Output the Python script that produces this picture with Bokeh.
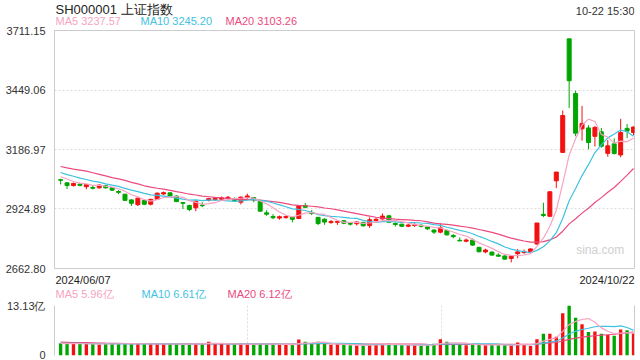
import numpy as np
from bokeh.plotting import figure
from bokeh.layouts import column
from bokeh.models import (ColumnDataSource, Range1d, FixedTicker, LinearAxis,
                          NumeralTickFormatter, CustomJSTickFormatter)
from bokeh.core.properties import value
from bokeh.embed import file_html
from bokeh.resources import INLINE

# ---------------- data ----------------
dates = [
    "2024-06-07", "2024-06-11", "2024-06-12", "2024-06-13", "2024-06-14",
    "2024-06-17", "2024-06-18", "2024-06-19", "2024-06-20", "2024-06-21",
    "2024-06-24", "2024-06-25", "2024-06-26", "2024-06-27", "2024-06-28",
    "2024-07-01", "2024-07-02", "2024-07-03", "2024-07-04", "2024-07-05",
    "2024-07-08", "2024-07-09", "2024-07-10", "2024-07-11", "2024-07-12",
    "2024-07-15", "2024-07-16", "2024-07-17", "2024-07-18", "2024-07-19",
    "2024-07-22", "2024-07-23", "2024-07-24", "2024-07-25", "2024-07-26",
    "2024-07-29", "2024-07-30", "2024-07-31", "2024-08-01", "2024-08-02",
    "2024-08-05", "2024-08-06", "2024-08-07", "2024-08-08", "2024-08-09",
    "2024-08-12", "2024-08-13", "2024-08-14", "2024-08-15", "2024-08-16",
    "2024-08-19", "2024-08-20", "2024-08-21", "2024-08-22", "2024-08-23",
    "2024-08-26", "2024-08-27", "2024-08-28", "2024-08-29", "2024-08-30",
    "2024-09-02", "2024-09-03", "2024-09-04", "2024-09-05", "2024-09-06",
    "2024-09-09", "2024-09-10", "2024-09-11", "2024-09-12", "2024-09-13",
    "2024-09-18", "2024-09-19", "2024-09-20", "2024-09-23", "2024-09-24",
    "2024-09-25", "2024-09-26", "2024-09-27", "2024-09-30", "2024-10-08",
    "2024-10-09", "2024-10-10", "2024-10-11", "2024-10-14", "2024-10-15",
    "2024-10-16", "2024-10-17", "2024-10-18", "2024-10-21", "2024-10-22",
]

opens = [3054, 3040, 3028, 3034, 3023, 3020, 3018, 3027, 3019, 3002,
         2990, 2965, 2944, 2962, 2946, 2968, 2991, 2996, 2982, 2953,
         2940, 2930, 2942, 2963, 2966, 2968, 2972, 2970, 2955, 2976,
         2975, 2958, 2908, 2892, 2885, 2887, 2888, 2883, 2940, 2910,
         2888, 2880, 2865, 2866, 2873, 2861, 2860, 2866, 2852, 2874,
         2881, 2895, 2861, 2858, 2849, 2852, 2853, 2846, 2832, 2823,
         2830, 2808, 2787, 2783, 2788, 2756, 2736, 2735, 2722, 2718,
         2707, 2728, 2733, 2734, 2770.75, 2901.43, 2893, 3049.06, 3174.26, 3674.40,
         3433.31, 3278, 3282, 3245, 3265, 3170, 3212, 3163, 3280, 3262]

highs = [3058, 3043, 3041, 3038, 3035, 3026, 3033, 3031, 3022, 3008,
         2992, 2968, 2975, 2966, 2970, 2997, 3002, 2999, 2985, 2956,
         2944, 2962, 2955, 2974, 2978, 2980, 2982, 2976, 2980, 2993,
         2978, 2962, 2920, 2902, 2896, 2897, 2890, 2940, 2952, 2920,
         2890, 2884, 2876, 2874, 2876, 2866, 2870, 2868, 2888, 2885,
         2905, 2897, 2866, 2860, 2859, 2862, 2859, 2850, 2836, 2862,
         2834, 2815, 2800, 2795, 2795, 2758, 2750, 2738, 2730, 2721,
         2722, 2749, 2746, 2752, 2863.13, 2952.45, 3000.95, 3087.53, 3358.59, 3674.40,
         3446, 3379, 3294, 3290, 3282, 3229, 3236, 3322, 3299, 3289]

lows = [3033, 3013, 3024, 3025, 3012, 3011, 3015, 3015, 3004, 2990,
        2960, 2938, 2938, 2942, 2941, 2965, 2987, 2980, 2955, 2925,
        2915, 2915, 2933, 2958, 2960, 2960, 2968, 2958, 2945, 2965,
        2955, 2914, 2895, 2880, 2878, 2882, 2866, 2880, 2928, 2898,
        2854, 2855, 2860, 2855, 2858, 2852, 2852, 2848, 2842, 2870,
        2878, 2863, 2848, 2846, 2845, 2846, 2843, 2833, 2815, 2818,
        2808, 2796, 2783, 2778, 2762, 2734, 2730, 2720, 2714, 2702,
        2689.70, 2708, 2727, 2731, 2767.5, 2889.05, 2889.27, 3017, 3174.26, 3370,
        3245, 3226, 3188, 3200, 3195, 3155, 3165, 3152.82, 3237, 3250]

closes = [3051.28, 3028.05, 3037.47, 3028.92, 3032.63, 3015.89, 3030.25, 3018.05, 3007.88, 2998.14,
          2963.10, 2950.01, 2972.53, 2945.85, 2967.40, 2994.73, 2997.01, 2982.38, 2957.57, 2949.93,
          2922.45, 2959.37, 2939.36, 2970.39, 2971.30, 2974.01, 2976.30, 2962.19, 2977.13, 2982.31,
          2964.22, 2915.37, 2901.95, 2886.43, 2890.90, 2891.85, 2879.30, 2938.75, 2932.39, 2905.34,
          2860.70, 2867.28, 2869.90, 2870.22, 2862.19, 2858.20, 2867.95, 2850.65, 2877.36, 2879.43,
          2893.67, 2866.66, 2856.58, 2848.77, 2854.37, 2855.52, 2848.73, 2837.43, 2823.11, 2842.21,
          2811.04, 2802.98, 2784.28, 2788.31, 2765.81, 2736.49, 2744.19, 2721.80, 2717.12, 2704.09,
          2717.28, 2736.02, 2736.81, 2748.92, 2863.13, 2896.31, 3000.95, 3087.53, 3336.50, 3489.78,
          3258.86, 3301.93, 3217.74, 3284.32, 3201.29, 3202.95, 3169.38, 3261.56, 3268.11, 3285.87]

# volume, unit 亿
volumes = [3.2, 3.1, 3.0, 3.1, 3.0, 3.1, 2.9, 3.1, 3.0, 3.3,
           3.1, 3.0, 3.0, 3.0, 3.1, 3.0, 3.0, 3.0, 3.0, 2.9,
           3.1, 3.2, 3.0, 3.6, 3.0, 3.0, 2.9, 2.9, 3.1, 3.0,
           3.0, 3.1, 2.9, 3.0, 2.8, 2.8, 2.8, 4.2, 3.6, 3.1,
           3.6, 3.0, 2.8, 2.9, 2.8, 2.7, 2.6, 2.6, 3.0, 2.9,
           3.0, 3.1, 2.8, 2.7, 2.7, 2.7, 2.6, 2.8, 3.1, 4.3,
           3.6, 2.9, 2.8, 2.7, 2.8, 2.9, 2.7, 2.8, 2.7, 2.8,
           2.7, 3.4, 2.9, 2.5, 4.3, 5.7, 5.7, 4.9, 11.1, 13.13,
           9.9, 8.2, 6.2, 6.3, 5.7, 5.4, 5.2, 6.8, 6.6, 5.8]

# 19 sessions before the window (for moving averages)
prior_closes = [3148.02, 3145.77, 3119.90, 3122.40, 3154.03, 3171.15, 3157.97, 3158.54, 3116.39, 3088.87,
                3124.04, 3109.57, 3111.02, 3091.68, 3086.81, 3078.49, 3091.20, 3065.40, 3048.79]
prior_volumes = [3.9, 3.8, 3.6, 3.5, 3.9, 4.1, 3.8, 3.6, 3.8, 3.6,
                 3.4, 3.3, 3.3, 3.2, 3.4, 3.2, 3.1, 3.2, 3.1]

price_ticks = [2662.80, 2924.89, 3186.97, 3449.06, 3711.15]
vol_ticks = [0, 13.13]

title_text = "SH000001 上证指数"
time_text = "10-22 15:30"
ma_text = ["MA5 3237.57", "MA10 3245.20", "MA20 3103.26"]
vol_ma_text = ["MA5 5.96亿", "MA10 6.61亿", "MA20 6.12亿"]

# ---------------- styling ----------------
UP = "#f21010"
DOWN = "#00a600"
MA_COLORS = ["#f7a3c2", "#3fc2df", "#ec4a7e"]
FONT = "Liberation Sans"
GRID = "#dcdcdc"
BORDER = "#cccccc"
W = 640
LEFT, RIGHT = 54, 6


def moving(values, prior, n):
    full = np.array(list(prior) + list(values), dtype=float)
    k = len(prior)
    return [float(full[k + i - n + 1:k + i + 1].mean()) for i in range(len(values))]


def text_strip(height):
    """A strip of text; x measured in page px (frame aligned with the panels), y downwards."""
    f = figure(width=W, height=height, x_range=Range1d(LEFT, W - RIGHT), y_range=Range1d(height, 0),
               output_backend="svg", toolbar_location=None,
               x_axis_location=None, y_axis_location=None,
               min_border_left=LEFT, min_border_right=RIGHT, min_border_top=0, min_border_bottom=0)
    f.outline_line_color = None
    f.xgrid.visible = False
    f.ygrid.visible = False
    return f


def put(f, xs_, ys_, texts, colors_, size, align="left"):
    f.text(x=xs_, y=ys_, text=texts, text_color=colors_, text_font=value(FONT),
           text_font_size=size, text_align=align, text_baseline="middle")


def style_axis(a):
    a.axis_line_color = BORDER
    a.major_tick_line_color = None
    a.minor_tick_line_color = None
    a.major_label_standoff = 3
    a.major_label_text_font = FONT
    a.major_label_text_font_size = "11px"
    a.major_label_text_color = "#333333"


n = len(closes)
xs = list(range(n))
colors = [UP if c >= o else DOWN for o, c in zip(opens, closes)]
src = ColumnDataSource(dict(
    x=xs, open=opens, close=closes, high=highs, low=lows,
    top=[max(o, c) for o, c in zip(opens, closes)],
    bottom=[min(o, c) for o, c in zip(opens, closes)],
    vol=volumes, color=colors,
))
x_range = Range1d(-0.95, n - 1 + 0.15)

# ---------------- header ----------------
HH = 26
head = text_strip(HH)
put(head, [55], [8.5], [title_text], ["#222222"], "13px")
put(head, [W - RIGHT], [10], [time_text], ["#333333"], "11px", "right")
put(head, [55, 140, 225], [20.5] * 3, ma_text, MA_COLORS, "11px")

# ---------------- main (price) panel ----------------
p = figure(width=W, height=247, x_range=x_range,
           y_range=Range1d(price_ticks[0], price_ticks[-1]),
           output_backend="svg", toolbar_location=None, x_axis_location=None,
           min_border_left=LEFT, min_border_right=RIGHT, min_border_top=4, min_border_bottom=5)
p.outline_line_color = BORDER
p.xgrid.visible = False
p.ygrid.ticker = FixedTicker(ticks=price_ticks)
p.ygrid.grid_line_color = GRID
p.ygrid.grid_line_dash = "2 2"
ax = p.yaxis[0]
ax.ticker = FixedTicker(ticks=price_ticks)
ax.formatter = NumeralTickFormatter(format="0.00")
style_axis(ax)

# watermark
p.text(x=[x_range.end - 1.6], y=[price_ticks[0] + 80], text=["sina.com"], text_color="#cfcfcf",
       text_font=value(FONT), text_font_size="12px", text_align="right", text_baseline="middle")

p.segment(x0="x", y0="low", x1="x", y1="high", line_color="color", line_width=1, source=src)
p.vbar(x="x", width=0.62, top="top", bottom="bottom", fill_color="color",
       line_color="color", line_width=1, source=src)
for nn, col in zip([20, 10, 5], [MA_COLORS[2], MA_COLORS[1], MA_COLORS[0]]):
    p.line(xs, moving(closes, prior_closes, nn), line_color=col, line_width=1.2)

# ---------------- dates + volume legend strip ----------------
MH = 26
mid = text_strip(MH)
put(mid, [55], [6], [dates[0].replace("-", "/")], ["#222222"], "11px")
put(mid, [W - RIGHT], [6], [dates[-1].replace("-", "/")], ["#222222"], "11px", "right")
put(mid, [55, 141, 227], [20.5] * 3, vol_ma_text, MA_COLORS, "11px")

# ---------------- volume panel ----------------
v = figure(width=W, height=61, x_range=x_range, y_range=Range1d(vol_ticks[0], vol_ticks[-1]),
           output_backend="svg", toolbar_location=None, x_axis_location=None,
           min_border_left=LEFT, min_border_right=RIGHT, min_border_top=6, min_border_bottom=5)
v.outline_line_color = None
span = x_range.end - x_range.start
v.xgrid.ticker = FixedTicker(ticks=[x_range.start + span / 3, x_range.start + 2 * span / 3])
v.xgrid.grid_line_color = GRID
v.xgrid.grid_line_dash = "2 2"
v.ygrid.ticker = FixedTicker(ticks=vol_ticks)
v.ygrid.grid_line_color = GRID
v.ygrid.grid_line_dash = "2 2"
vax = v.yaxis[0]
vax.ticker = FixedTicker(ticks=vol_ticks)
vax.formatter = CustomJSTickFormatter(code="return tick == 0 ? '0' : tick.toFixed(2) + '亿'")
style_axis(vax)
# plain right edge line
rax = LinearAxis(ticker=FixedTicker(ticks=[]), major_label_text_font_size="0px",
                 major_tick_line_color=None, minor_tick_line_color=None,
                 major_label_standoff=0, axis_line_color=BORDER)
v.add_layout(rax, "right")

v.vbar(x="x", width=0.52, top="vol", bottom=0, fill_color="color", line_color=None, source=src)
for nn, col in zip([20, 10, 5], [MA_COLORS[2], MA_COLORS[1], MA_COLORS[0]]):
    v.line(xs, moving(volumes, prior_volumes, nn), line_color=col, line_width=1.2)

layout = column(head, p, mid, v, spacing=0)
open("out.html", "w").write(file_html(layout, INLINE))
